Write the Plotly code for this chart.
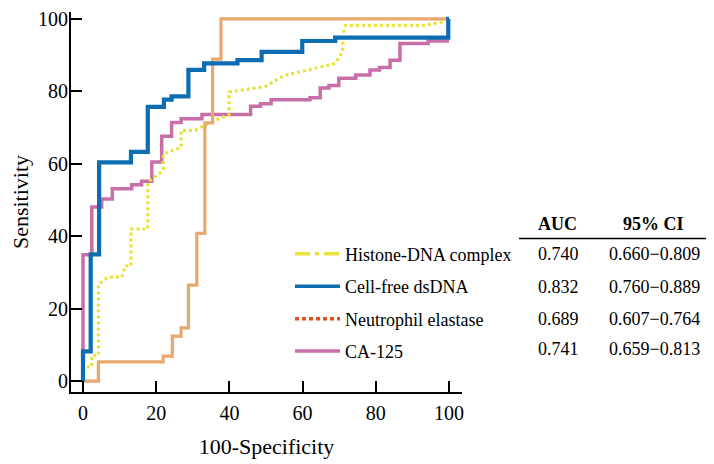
import plotly.graph_objects as go

# ---------------- data ----------------
names = ["Histone-DNA complex", "Cell-free dsDNA", "Neutrophil elastase", "CA-125"]
auc = ["0.740", "0.832", "0.689", "0.741"]
ci = ["0.660\u22120.809", "0.760\u22120.889", "0.607\u22120.764", "0.659\u22120.813"]

# Histone-DNA complex (smoothed, drawn with linear segments)
histone_x = [0, 0, 2.4, 2.4, 4.2, 4.2, 5.6, 6.9, 10.6, 11.5, 13.1, 13.1, 17.7, 17.7, 21.9, 21.9,
             26.8, 26.8, 30.6, 33.3, 39.9, 39.9, 49.7, 55.2, 61.6, 68.9, 70.9, 71.2, 71.7, 93.4, 99.8, 100]
histone_y = [0, 3.9, 3.9, 7.1, 7.1, 26.7, 27.8, 28.7, 28.7, 31.8, 31.8, 42.0, 42.0, 55.0, 58.1, 62.7,
             64.5, 69.2, 69.2, 70.7, 73.6, 79.8, 81.3, 84.5, 85.9, 87.7, 90.9, 96.2, 98.2, 98.2, 99.5, 100]

# Cell-free dsDNA (step curve)
dsdna_x = [0, 0, 2.1, 4.4, 13.1, 17.7, 22.1, 24.2, 28.8, 33.1, 42.2, 48.8, 59.9, 68.9, 99.8, 100]
dsdna_y = [0, 8.2, 35.0, 60.4, 63.3, 75.7, 77.7, 78.6, 85.9, 87.7, 88.6, 90.9, 93.9, 94.8, 100, 100]

# Neutrophil elastase (step curve)
elast_x = [0, 4.2, 21.9, 24.4, 26.8, 28.8, 31.1, 33.3, 35.4, 37.7, 100]
elast_y = [0, 5.3, 6.9, 12.4, 14.7, 26.5, 40.8, 71.3, 88.9, 100, 100]

# CA-125 (step curve)
ca125_x = [0, 0, 2.4, 5.1, 8.0, 13.3, 16.0, 18.8, 21.5, 24.2, 26.8, 32.5, 45.8, 48.5, 51.4,
           62.0, 64.8, 67.2, 69.9, 74.5, 78.4, 81.0, 83.9, 86.6, 94.3, 100]
ca125_y = [0, 34.9, 48.1, 50.3, 53.1, 54.2, 55.2, 60.5, 67.6, 71.4, 72.4, 73.6, 75.9, 76.6, 77.7,
           78.2, 80.9, 81.6, 83.6, 84.5, 85.9, 86.6, 88.6, 93.2, 93.9, 93.9]

x_ticks = [0, 20, 40, 60, 80, 100]
y_ticks = [0, 20, 40, 60, 80, 100]

# ---------------- styling ----------------
FONT = "Liberation Serif"
YELLOW = "#EAE23C"
BLUE = "#0C6DB3"
ORANGE_LINE = "#E8A86E"
ORANGE_LEG = "#D95319"
PINK = "#C96FA8"

OFF = 8  # page body margin: screenshot px = figure px + 8
W, H = 714, 464
L, R, T, B = 63, 260, 0, 80
PW, PH = W - L - R, H - T - B


def px_x(p):
    return (p - OFF - L) / PW


def px_y(p):
    return (H - B - (p - OFF)) / PH


fig = go.Figure()

# plotted curves
fig.add_trace(go.Scatter(x=ca125_x, y=ca125_y, mode="lines", line=dict(color=PINK, width=3.5, shape="hv"),
                         showlegend=False, hoverinfo="skip"))
fig.add_trace(go.Scatter(x=histone_x, y=histone_y, mode="lines", line=dict(color=YELLOW, width=3.2, dash="3px,3px"),
                         showlegend=False, hoverinfo="skip"))
fig.add_trace(go.Scatter(x=elast_x, y=elast_y, mode="lines", line=dict(color=ORANGE_LINE, width=3.2, shape="hv"),
                         showlegend=False, hoverinfo="skip"))
fig.add_trace(go.Scatter(x=dsdna_x, y=dsdna_y, mode="lines", line=dict(color=BLUE, width=4.2, shape="hv"),
                         showlegend=False, hoverinfo="skip"))

# legend entries
leg_styles = [
    dict(color=YELLOW, width=3.5, dash="15px,5px,4px,5px"),
    dict(color=BLUE, width=3.5),
    dict(color=ORANGE_LEG, width=3.5, dash="4px,3px"),
    dict(color=PINK, width=3.5),
]
for i, (n, st) in enumerate(zip(names, leg_styles)):
    fig.add_trace(go.Scatter(x=[None], y=[None], mode="lines", line=st, name=n,
                             legendgroup="g%d" % i, showlegend=True))

# table
row_y = [253, 286, 318, 349]
ann = [
    dict(text="<b>AUC</b>", x=px_x(557), y=px_y(222), xanchor="center"),
    dict(text="<b>95% CI</b>", x=px_x(653), y=px_y(222), xanchor="center"),
]
for a, c, ry in zip(auc, ci, row_y):
    ann.append(dict(text=a, x=px_x(536), y=px_y(ry), xanchor="left"))
    ann.append(dict(text=c, x=px_x(607), y=px_y(ry), xanchor="left"))
for a in ann:
    a.update(xref="paper", yref="paper", yanchor="middle", showarrow=False,
             font=dict(family=FONT, size=18, color="black"))
fig.update_layout(annotations=ann)
fig.add_shape(type="line", xref="paper", yref="paper", x0=px_x(519), x1=px_x(713),
              y0=px_y(237), y1=px_y(237), line=dict(color="black", width=1.5))

axis_common = dict(showline=True, linecolor="black", linewidth=2, ticks="inside", ticklen=11,
                   tickwidth=2, tickcolor="black", showgrid=False, zeroline=False,
                   ticklabeloverflow="allow",
                   tickfont=dict(family=FONT, size=20, color="black"))
fig.update_xaxes(range=[-3.28, 103.55], tickvals=x_ticks, ticktext=[str(v) for v in x_ticks],
                 ticklabelstandoff=2,
                 title=dict(text="100-Specificity", font=dict(family=FONT, size=22, color="black"), standoff=16),
                 **axis_common)
fig.update_yaxes(range=[-3.0, 101.9], tickvals=y_ticks, ticktext=[str(v) for v in y_ticks],
                 ticklabelstandoff=-3,
                 title=dict(text="Sensitivity", font=dict(family=FONT, size=22, color="black"), standoff=6),
                 **axis_common)

fig.update_layout(
    width=W, height=H,
    margin=dict(l=L, r=R, t=T, b=B),
    paper_bgcolor="white", plot_bgcolor="white",
    legend=dict(x=px_x(290), y=px_y(234), xanchor="left", yanchor="top",
                font=dict(family=FONT, size=18, color="black"),
                traceorder="grouped", tracegroupgap=6, itemwidth=45,
                bgcolor="rgba(0,0,0,0)"),
)

fig.write_html("out.html")
